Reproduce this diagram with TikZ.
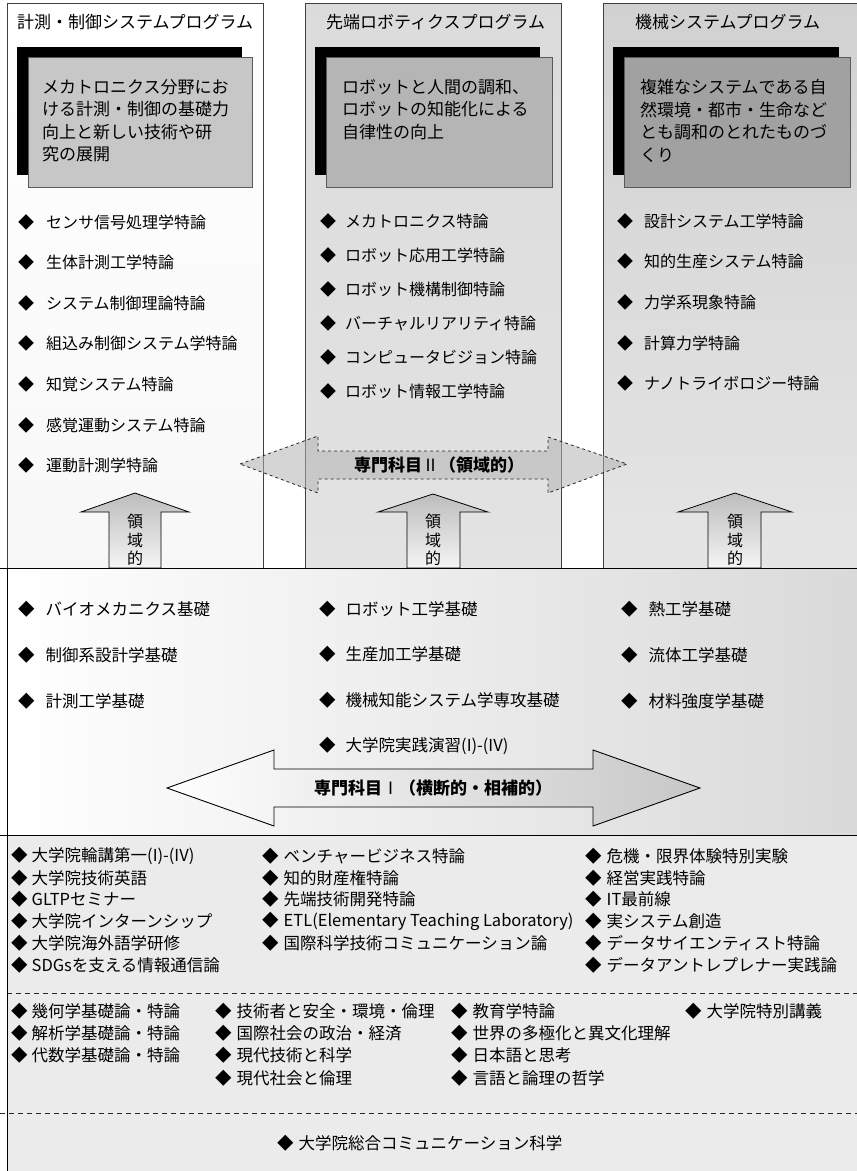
\documentclass[tikz,border=0pt]{standalone}
\usepackage{fontspec}
\setmainfont{Noto Sans CJK JP}
\newcommand{\dm}[1]{◆\hspace{#1}}
\begin{document}
\begin{tikzpicture}[x=1pt,y=-1pt,
  colframe/.style={draw=black!75, line width=0.8pt},
  shadowbox/.style={fill=black},
  descbox/.style={draw=black!65, line width=0.7pt},
  ttl/.style={anchor=west, inner sep=0pt, font=\fontsize{17}{20}\selectfont},
  desc/.style={anchor=north west, inner sep=0pt, align=left, font=\fontsize{17}{22.5}\selectfont},
  itm/.style={anchor=west, inner sep=0pt, font=\fontsize{16}{19}\selectfont},
  sml/.style={anchor=west, inner sep=0pt, font=\fontsize{16.5}{19}\selectfont},
  uparrow/.style={draw=black, line width=0.8pt, top color=black!26, bottom color=black!4},
  vtext/.style={align=center, inner sep=0pt, font=\fontsize{16}{18.5}\selectfont},
  bigarrow/.style={draw=black, line width=0.9pt, left color=white, right color=black!22},
  dasharrow/.style={draw=black!85, dashed, line width=0.8pt, fill=black!30, fill opacity=0.54},
  blabel/.style={inner sep=0pt, font=\fontsize{17}{20}\selectfont\bfseries},
  sepline/.style={line width=1pt, draw=black},
  dline/.style={line width=0.8pt, draw=black!85, dash pattern=on 5pt off 4pt},
]
\useasboundingbox (0,0) rectangle (857,1171);
\fill[white] (0,0) rectangle (857,1171);

% ---------- three programme columns ----------
\path[colframe, top color=white, bottom color=black!3] (7,3) rectangle (263,568);
\path[colframe, top color=black!14, bottom color=black!11] (305,3) rectangle (561,568);
\path[colframe, top color=black!18, bottom color=black!10] (603,3) rectangle (870,568);

\node[ttl] (t1) at (17,22) {計測・制御システムプログラム};
\node[ttl] (t2) at (326,22) {先端ロボティクスプログラム};
\node[ttl] (t3) at (635,22) {機械システムプログラム};

% description boxes with black offset shadows
\fill[shadowbox] (17,47) rectangle (242,175);
\draw[descbox, fill=black!22] (28,57) rectangle (252,187);
\node[desc] (d1) at (42,79) {メカトロニクス分野にお\\ける計測・制御の基礎力\\向上と新しい技術や研\\究の展開};

\fill[shadowbox] (315,47) rectangle (540,175);
\draw[descbox, fill=black!29] (326,57) rectangle (552,187);
\node[desc] (d2) at (342,79) {ロボットと人間の調和、\\ロボットの知能化による\\自律性の向上};

\fill[shadowbox] (613,47) rectangle (839,175);
\draw[descbox, fill=black!37] (624,57) rectangle (850,187);
\node[desc] (d3) at (640,79) {複雑なシステムである自\\然環境・都市・生命など\\とも調和のとれたものづ\\くり};

% column course lists
\foreach \t [count=\i] in {センサ信号処理学特論,生体計測工学特論,システム制御理論特論,組込み制御システム学特論,知覚システム特論,感覚運動システム特論,運動計測学特論}
  \node[itm] (a\i) at (18,{222+40.6*(\i-1)}) {\dm{12pt}\t};
\foreach \t [count=\i] in {メカトロニクス特論,ロボット応用工学特論,ロボット機構制御特論,バーチャルリアリティ特論,コンピュータビジョン特論,ロボット情報工学特論}
  \node[itm] (b\i) at (320,{221+34*(\i-1)}) {\dm{9pt}\t};
\foreach \t [count=\i] in {設計システム工学特論,知的生産システム特論,力学系現象特論,計算力学特論,ナノトライボロジー特論}
  \node[itm] (c\i) at (617,{221+40.7*(\i-1)}) {\dm{11pt}\t};

% dashed double arrow (Senmon II)
\draw[dasharrow] (240,464) -- (318,436) -- (318,451) -- (548,451) -- (548,437) -- (627,464) -- (548,493) -- (548,479) -- (318,479) -- (318,493) -- cycle;
\node[blabel] (s2) at (439,465) {専門科目\mdseries Ⅱ\bfseries（領域的）};

% ---------- lower box ----------
\path[left color=white, right color=black!15] (7,568) rectangle (870,835);
\fill[black!8] (7,835) rectangle (870,1171);
\draw[sepline] (0,568) -- (870,568);
\draw[sepline] (0,835) -- (870,835);
\draw[dline] (7,993) -- (870,993);
\draw[dline] (0,1113) -- (870,1113);
\draw[line width=1pt] (7,568) -- (7,1172);

% upward arrows
\draw[uparrow] (109,568) -- (109,512) -- (81,512) -- (135,493) -- (189,512) -- (161,512) -- (161,568) -- cycle;
\node[vtext] (u1) at (135,540) {領\\域\\的};
\draw[uparrow] (407,568) -- (407,512) -- (378,512) -- (433,494) -- (488,512) -- (460,512) -- (460,568) -- cycle;
\node[vtext] (u2) at (433,540) {領\\域\\的};
\draw[uparrow] (708,568) -- (708,512) -- (678,512) -- (735,493) -- (792,512) -- (761,512) -- (761,568) -- cycle;
\node[vtext] (u3) at (735,540) {領\\域\\的};
\draw[sepline] (0,568) -- (870,568);

% section: Senmon I
\foreach \t [count=\i] in {バイオメカニクス基礎,制御系設計学基礎,計測工学基礎}
  \node[sml] (e\i) at (18,{609+46*(\i-1)}) {\dm{11pt}\t};
\foreach \t [count=\i] in {ロボット工学基礎,生産加工学基礎,機械知能システム学専攻基礎,大学院実践演習(I)-(IV)}
  \node[sml] (f\i) at (319,{609+45.5*(\i-1)}) {\dm{10pt}\t};
\foreach \t [count=\i] in {熱工学基礎,流体工学基礎,材料強度学基礎}
  \node[sml] (g\i) at (621,{609+46*(\i-1)}) {\dm{11pt}\t};

\draw[bigarrow] (167,788) -- (274,750) -- (274,769) -- (593,769) -- (593,750) -- (700,788) -- (593,826) -- (593,807) -- (274,807) -- (274,826) -- cycle;
\node[blabel] (s1) at (433,788) {専門科目\mdseries Ⅰ\bfseries（横断的・相補的）};

% section: common subjects
\foreach \t [count=\i] in {大学院輪講第一(I)-(IV),大学院技術英語,GLTPセミナー,大学院インターンシップ,大学院海外語学研修,SDGsを支える情報通信論}
  \node[sml] (h\i) at (11,{856+21.8*(\i-1)}) {\dm{4pt}\t};
\foreach \t [count=\i] in {ベンチャービジネス特論,知的財産権特論,先端技術開発特論,ETL(Elementary Teaching Laboratory),国際科学技術コミュニケーション論}
  \node[sml] (k\i) at (262,{856+21.8*(\i-1)}) {\dm{5pt}\t};
\foreach \t [count=\i] in {危機・限界体験特別実験,経営実践特論,IT最前線,実システム創造,データサイエンティスト特論,データアントレプレナー実践論}
  \node[sml] (m\i) at (585,{856+21.8*(\i-1)}) {\dm{5pt}\t};

% section: liberal subjects
\foreach \t [count=\i] in {幾何学基礎論・特論,解析学基礎論・特論,代数学基礎論・特論}
  \node[sml] (n\i) at (11,{1011+22.3*(\i-1)}) {\dm{4pt}\t};
\foreach \t [count=\i] in {技術者と安全・環境・倫理,国際社会の政治・経済,現代技術と科学,現代社会と倫理}
  \node[sml] (p\i) at (215,{1011+22.3*(\i-1)}) {\dm{5pt}\t};
\foreach \t [count=\i] in {教育学特論,世界の多極化と異文化理解,日本語と思考,言語と論理の哲学}
  \node[sml] (q\i) at (451,{1011+22.3*(\i-1)}) {\dm{5pt}\t};
\node[sml] (r1) at (685,1011) {\dm{5pt}大学院特別講義};

\node[sml] (z1) at (277,1143) {\dm{5pt}大学院総合コミュニケーション科学};
\end{tikzpicture}
\end{document}
